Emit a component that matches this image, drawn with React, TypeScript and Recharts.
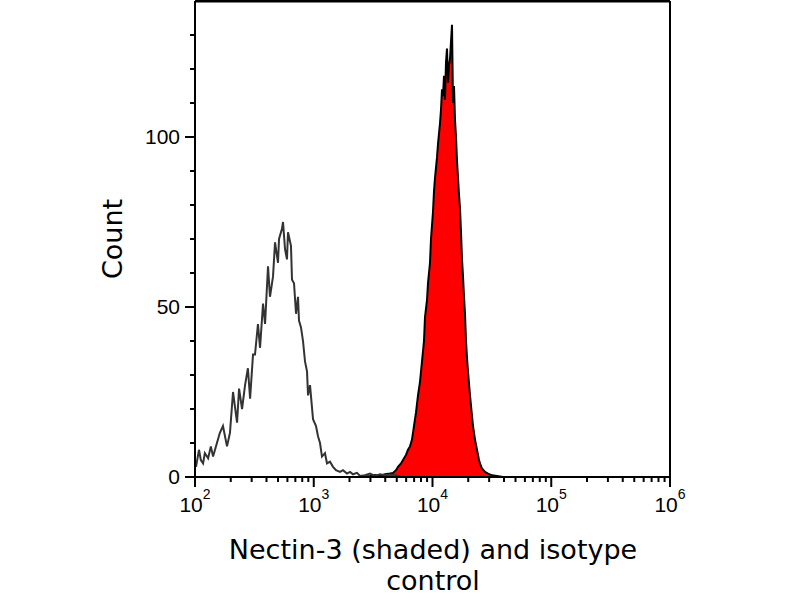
import { ComposedChart, Line, Area, XAxis, YAxis, ReferenceLine, Label } from 'recharts';

// isotype control histogram (fluorescence, count)
const isoFluor = [
  102, 108, 112, 117, 121, 129, 136, 142, 153, 162, 172, 186, 197, 209, 226, 235, 249, 264, 279, 291,
  308, 320, 339, 353, 374, 389, 412, 428, 454, 472, 500, 510, 540, 551, 573, 595, 607, 643, 656, 682,
  709, 737, 751, 781, 812, 844, 878, 895, 930, 986, 1045, 1086, 1129, 1173, 1244, 1293, 1370, 1453, 1539, 1664,
  1763, 1905, 2020, 2140, 2313, 2452, 2702, 2977, 3280, 3614, 3981, 4386, 4833, 5326,
];
const isoCount = [
  3, 8, 5, 4, 7, 5.5, 9, 6, 10, 13, 15, 9, 13, 25, 16, 26, 20, 27, 32, 23,
  36, 36, 45, 38, 51, 45, 62, 53, 59, 69, 63, 70, 73, 75, 67, 64, 72, 68, 58, 57,
  48, 53, 46, 44, 40, 34, 31, 24, 27, 17, 15, 12, 10, 6, 7, 4, 4.5, 3, 2, 1.5,
  2, 1, 1.5, 0.8, 1.2, 0.3, 0.5, 1, 0.3, 0.8, 0.5, 0.7, 0.5, 0.2,
];

// Nectin-3 stained histogram (shaded)
const nectinFluor = [
  2452, 2977, 3280, 3614, 3981, 4386, 4649, 4927, 5122, 5430, 5644, 5982, 6219, 6465, 6720, 6986, 7262, 7549, 7848, 8158,
  8481, 8647, 8988, 9165, 9527, 9713, 10097, 10295, 10497, 10912, 11126, 11566, 11792, 12023, 12258, 12498, 12743, 12992, 13247, 13506,
  13770, 14040, 14315, 14595, 14881, 15172, 15469, 15772, 16081, 16396, 16717, 17044, 17378, 17718, 18065, 18419, 18779, 19147, 19522, 19904,
  20691, 21508, 21929, 22796, 23697, 24633, 25119, 26111, 27676, 29334, 31708, 34929, 39234,
];
const nectinCount = [
  0, 0.3, 0.6, 0.3, 0.8, 1, 1.2, 2, 3, 4, 5, 6.5, 8, 9, 11, 15, 19, 24, 28, 34,
  40, 47, 52, 57, 63, 70, 78, 84, 88, 94, 98, 104, 108, 114, 112, 118, 111, 122, 126, 116,
  121, 123, 128, 133, 110, 115, 105, 100, 93, 88, 83, 79, 72, 64, 59, 53, 48, 40, 35, 31,
  24, 18, 15, 11, 8, 5, 4, 2.5, 1.5, 1, 0.5, 0.3, 0,
];

const xTicks = [
  100, 200, 300, 400, 500, 600, 700, 800, 900,
  1000, 2000, 3000, 4000, 5000, 6000, 7000, 8000, 9000,
  10000, 20000, 30000, 40000, 50000, 60000, 70000, 80000, 90000,
  100000, 200000, 300000, 400000, 500000, 600000, 700000, 800000, 900000,
  1000000,
];
const xMajor = [100, 1000, 10000, 100000, 1000000];
const xExponents = ['2', '3', '4', '5', '6'];
const yTicks = [0, 10, 20, 30, 40, 50, 60, 70, 80, 90, 100, 110, 120, 130];
const yMajor = [0, 50, 100];

const isoData = isoFluor.map((x, i) => ({ x, count: isoCount[i] }));
const nectinData = nectinFluor.map((x, i) => ({ x, count: nectinCount[i] }));

const TICK_FONT = '"Liberation Sans", Arial, sans-serif';
const TITLE_FONT = '"DejaVu Sans", Verdana, sans-serif';

function XTick(props: any) {
  const { x, y, payload } = props;
  const idx = xMajor.indexOf(payload.value);
  const major = idx >= 0;
  return (
    <g>
      <line x1={x} x2={x} y1={y} y2={y + (major ? 10 : 5)} stroke="#000" strokeWidth={2} />
      {major && (
        <text x={x} y={y + 35} textAnchor="middle" fontFamily={TICK_FONT} fontSize={21} fill="#000">
          10
          <tspan dy={-13} fontSize={14}>{xExponents[idx]}</tspan>
        </text>
      )}
    </g>
  );
}

function YTick(props: any) {
  const { x, y, payload } = props;
  const major = yMajor.includes(payload.value);
  return (
    <g>
      <line x1={x - (major ? 10 : 5)} x2={x} y1={y} y2={y} stroke="#000" strokeWidth={2} />
      {major && (
        <text x={x - 15} y={y + 7} textAnchor="end" fontFamily={TICK_FONT} fontSize={21} fill="#000">
          {payload.value}
        </text>
      )}
    </g>
  );
}

export default function App() {
  return (
    <div style={{ position: 'absolute', left: 0, top: 0, width: 800, height: 600, background: '#fff' }}>
      <ComposedChart width={800} height={600} margin={{ top: 1, right: 130, bottom: 0, left: 0 }}>
        <XAxis
          dataKey="x"
          type="number"
          scale="log"
          domain={[100, 1000000]}
          allowDataOverflow
          ticks={xTicks}
          interval={0}
          tick={<XTick />}
          tickLine={false}
          tickSize={0}
          tickMargin={0}
          height={123}
          axisLine={{ stroke: '#000', strokeWidth: 2 }}
        >
          <Label
            content={() => (
              <g fontFamily={TITLE_FONT} fontSize={27} fill="#000">
                <text x={433} y={559} textAnchor="middle">Nectin-3 (shaded) and isotype</text>
                <text x={433} y={590} textAnchor="middle">control</text>
              </g>
            )}
          />
        </XAxis>
        <YAxis
          type="number"
          domain={[0, 140]}
          allowDataOverflow
          ticks={yTicks}
          interval={0}
          tick={<YTick />}
          tickLine={false}
          tickSize={0}
          tickMargin={0}
          width={195}
          axisLine={{ stroke: '#000', strokeWidth: 2 }}
        >
          <Label
            content={() => (
              <text
                x={122}
                y={239}
                textAnchor="middle"
                transform="rotate(-90, 122, 239)"
                fontFamily={TITLE_FONT}
                fontSize={27}
                fill="#000"
              >
                Count
              </text>
            )}
          />
        </YAxis>
        <Line
          data={isoData}
          dataKey="count"
          type="linear"
          stroke="#333"
          strokeWidth={2}
          dot={false}
          activeDot={false}
          isAnimationActive={false}
        />
        <Area
          data={nectinData}
          dataKey="count"
          type="linear"
          stroke="#000"
          strokeWidth={2}
          fill="#ff0000"
          fillOpacity={1}
          baseValue={0}
          dot={false}
          activeDot={false}
          isAnimationActive={false}
        />
        <ReferenceLine y={140} stroke="#000" strokeWidth={3} />
        <ReferenceLine x={1000000} stroke="#000" strokeWidth={2} />
      </ComposedChart>
    </div>
  );
}
